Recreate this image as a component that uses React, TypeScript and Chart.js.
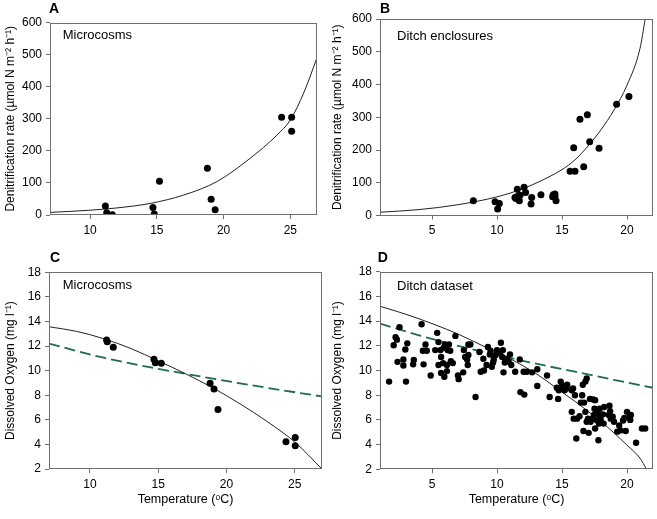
import React, { useEffect, useRef } from 'react';
import { Chart, registerables } from 'chart.js';

Chart.register(...registerables);

// ---------- DATA ----------
// Panel A: microcosms, denitrification vs temperature
const tempA = [11.15, 11.25, 11.67, 14.71, 14.81, 15.2, 18.79, 19.07, 19.37, 24.35, 25.1, 25.1];
const denitA = [28, 7, 1, 23, 3, 105, 146, 49, 16, 305, 305, 261];
const fitTempA = [7, 10, 12, 14.5, 17, 19.5, 22, 24, 25, 26, 27];
const fitDenitA = [8, 15, 22, 36, 62, 104, 177, 249, 296, 380, 490];

// Panel B: ditch enclosures
const tempB = [8.18, 9.85, 10.18, 10.05, 11.56, 11.38, 11.46, 11.72, 11.64, 11.77, 12.08, 12.2, 12.67, 12.62, 13.38, 14.33, 14.46, 14.46, 14.28, 14.54, 15.62, 16.0, 15.9, 16.67, 16.38, 16.95, 17.13, 17.85, 19.2, 20.15];
const denitB = [45, 42, 37, 20, 80, 55, 52, 45, 60, 62, 86, 70, 55, 35, 63, 63, 66, 57, 57, 45, 135, 135, 207, 149, 294, 308, 225, 205, 340, 363];
const fitTempB = [1, 4, 7, 10, 12, 14, 15, 16, 17, 18, 19, 20, 21, 21.4];
const fitDenitB = [10, 18, 33, 57, 82, 118, 140, 170, 212, 262, 322, 398, 510, 600];

// Panel C: microcosms, dissolved oxygen
const tempC = [11.22, 11.27, 11.71, 14.69, 14.79, 15.23, 18.8, 19.09, 19.38, 24.36, 25.04, 25.04];
const oxyC = [12.49, 12.35, 11.9, 10.92, 10.65, 10.6, 8.97, 8.5, 6.85, 4.22, 4.57, 3.89];
const fitTempC = [7, 9, 11, 13, 15, 17, 19, 21, 23, 25, 27];
const fitOxyC = [13.57, 13.2, 12.6, 11.8, 10.8, 9.75, 8.6, 7.3, 5.85, 4.2, 2.0];
const satTempC = [7, 11, 15, 19, 23, 27];
const satOxyC = [12.2, 11.05, 10.15, 9.35, 8.6, 7.9];

// Panel D: ditch dataset
const tempD = [1.7, 2.05, 2.2, 2.3, 2.5, 2.35, 2.8, 2.8, 2.95, 3.1, 3.0, 3.55, 3.6, 4.2, 4.3, 4.35, 4.5, 4.6, 4.9, 5.25, 5.4, 5.5, 5.5, 5.65, 5.7, 5.7, 5.85, 5.9, 5.95, 6.0, 6.15, 6.2, 6.3, 6.4, 6.45, 6.15, 6.6, 6.8, 7.0, 7.05, 7.4, 7.45, 7.55, 7.7, 7.75, 7.8, 7.95, 7.8, 8.35, 8.65, 8.75, 8.95, 9.0, 9.2, 9.3, 9.45, 9.5, 9.6, 9.7, 9.75, 9.9, 10.0, 10.25, 10.3, 10.4, 10.45, 10.5, 10.6, 10.75, 10.9, 11.0, 11.1, 11.4, 11.75, 11.8, 12.1, 12.05, 12.3, 12.7, 13.1, 13.1, 13.85, 14.05, 14.7, 14.6, 14.75, 14.9, 15.0, 15.1, 15.2, 15.35, 15.4, 15.75, 15.75, 15.85, 15.9, 16.0, 16.1, 16.15, 16.35, 16.45, 16.55, 16.6, 16.7, 16.65, 16.8, 16.9, 16.8, 16.9, 17.0, 17.05, 17.15, 17.2, 17.35, 17.4, 17.45, 17.5, 17.55, 17.55, 17.65, 17.7, 17.8, 17.85, 17.85, 17.9, 17.95, 18.0, 18.15, 18.2, 18.25, 18.6, 18.65, 18.7, 18.75, 18.9, 19.0, 19.25, 19.4, 19.5, 19.7, 19.8, 19.9, 20.0, 20.2, 20.25, 20.3, 20.7, 21.15, 21.4];
const oxyD = [9.1, 12.05, 12.7, 12.5, 13.5, 10.7, 10.4, 10.9, 11.7, 12.2, 9.1, 10.5, 10.85, 13.75, 11.6, 10.5, 12.1, 11.6, 9.6, 11.65, 13.05, 12.3, 10.45, 11.65, 11.1, 9.8, 10.6, 11.85, 9.5, 12.1, 10.45, 11.65, 12.1, 11.6, 10.75, 9.95, 10.6, 12.8, 9.6, 9.3, 9.85, 11.65, 11.1, 10.9, 10.45, 12.1, 12.1, 11.25, 7.85, 11.5, 9.9, 10.95, 10.0, 10.45, 11.9, 11.3, 11.6, 10.3, 10.65, 10.9, 11.25, 11.65, 11.5, 12.25, 11.1, 11.65, 9.85, 10.65, 10.95, 10.7, 11.3, 10.45, 9.9, 10.9, 8.25, 8.05, 9.9, 9.9, 9.85, 10.1, 8.75, 9.6, 7.85, 7.7, 8.6, 8.4, 9.1, 8.8, 8.6, 8.4, 8.55, 8.85, 8.4, 6.65, 8.55, 6.1, 8.0, 4.5, 6.1, 6.3, 7.4, 8.0, 8.85, 7.4, 5.1, 9.1, 9.35, 6.65, 5.85, 6.1, 4.95, 7.7, 5.85, 6.1, 7.65, 6.4, 6.9, 7.6, 5.3, 6.65, 5.95, 4.35, 6.45, 5.7, 6.9, 6.2, 5.9, 6.45, 5.7, 7.05, 6.4, 7.15, 6.7, 6.1, 6.25, 5.85, 5.05, 5.55, 5.15, 5.95, 6.15, 5.1, 6.65, 6.25, 6.0, 6.4, 4.15, 5.3, 5.3];
const fitTempD = [1, 3, 5, 7, 9, 11, 13, 15, 16, 17, 18, 19, 20, 21, 21.5];
const fitOxyD = [15.2, 14.55, 13.8, 12.95, 11.95, 10.95, 9.75, 8.25, 7.5, 6.7, 5.85, 4.95, 3.95, 2.9, 2.0];
const satTempD = [1, 4, 7, 10, 13, 16, 19, 22];
const satOxyD = [13.8, 12.85, 12.0, 11.25, 10.55, 9.9, 9.25, 8.6];

// Tick values
const xTicksA = [10, 15, 20, 25];
const xTicksB = [5, 10, 15, 20];
const xTicksC = [10, 15, 20, 25];
const xTicksD = [5, 10, 15, 20];

// Text
const denitTitle = 'Denitrification rate (\u00b5mol N m\u207b\u00b2 h\u207b\u00b9)';
const oxyTitle = 'Dissolved Oxygen (mg l\u207b\u00b9)';
const tempTitle = 'Temperature (\u1d52C)';

// ---------- STYLE ----------
const FONT = "'Liberation Sans', Arial, Helvetica, sans-serif";
const AXIS = '#6f6f6f';
const LINE = '#222222';
const DASH = '#1f6a50';

const zip = (xs: number[], ys: number[]) => xs.map((x, i) => ({ x, y: ys[i] }));

const decoPlugin = {
  id: 'deco',
  afterDraw(chart: any, _args: any, opts: any) {
    const { ctx, chartArea: a } = chart;
    ctx.save();
    ctx.strokeStyle = AXIS;
    ctx.lineWidth = 1;
    const l = Math.round(a.left) + 0.5;
    const t = Math.round(a.top) + 0.5;
    const r = Math.round(a.right) - 0.5;
    const b = Math.round(a.bottom) - 0.5;
    ctx.strokeRect(l, t, r - l, b - t);
    ctx.fillStyle = '#000';
    ctx.textBaseline = 'middle';
    ctx.textAlign = 'left';
    ctx.font = `bold 14px ${FONT}`;
    ctx.fillText(opts.label, a.left + opts.labelDx, a.top + opts.labelDy);
    ctx.font = `13px ${FONT}`;
    ctx.fillText(opts.note, a.left + opts.noteDx, a.top + opts.noteDy);
    ctx.restore();
  },
};

type PanelCfg = {
  left: number; top: number; w: number; h: number;
  padTop: number; padRight: number; yW: number; xH: number;
  xMin: number; xMax: number; xTicks: number[];
  yMin: number; yMax: number; yStep: number;
  yTitle: string; xTitle?: string;
  pts: { x: number; y: number }[]; r: number;
  fit: { x: number; y: number }[];
  sat?: { x: number; y: number }[];
  label: string; labelDx: number; labelDy: number;
  note: string; noteDx: number; noteDy: number;
};

function buildConfig(c: PanelCfg): any {
  const datasets: any[] = [
    {
      type: 'scatter',
      data: c.pts,
      backgroundColor: '#000',
      borderColor: '#000',
      borderWidth: 0,
      pointRadius: c.r,
      pointHoverRadius: c.r,
    },
    {
      type: 'line',
      data: c.fit,
      borderColor: LINE,
      borderWidth: 1,
      pointRadius: 0,
      fill: false,
      cubicInterpolationMode: 'monotone',
    },
  ];
  if (c.sat) {
    datasets.push({
      type: 'line',
      data: c.sat,
      borderColor: DASH,
      borderWidth: 1.8,
      borderDash: [11, 5],
      pointRadius: 0,
      fill: false,
      cubicInterpolationMode: 'monotone',
    });
  }
  const tickFont = { family: FONT, size: 12 };
  const xTitleFont = { family: FONT, size: 12.5 };
  const grid = { drawOnChartArea: false, drawTicks: true, tickLength: 4, color: AXIS, lineWidth: 1 };
  return {
    type: 'scatter',
    data: { datasets },
    options: {
      responsive: false,
      animation: false,
      devicePixelRatio: 1,
      events: [],
      layout: { padding: { left: 0, top: c.padTop, right: c.padRight, bottom: 0 } },
      plugins: {
        legend: { display: false },
        tooltip: { enabled: false },
        deco: { label: c.label, labelDx: c.labelDx, labelDy: c.labelDy, note: c.note, noteDx: c.noteDx, noteDy: c.noteDy },
      },
      scales: {
        x: {
          type: 'linear',
          min: c.xMin,
          max: c.xMax,
          afterBuildTicks: (s: any) => { s.ticks = c.xTicks.map((v) => ({ value: v })); },
          afterFit: (s: any) => { s.height = c.xH; },
          grid,
          border: { display: false },
          ticks: { font: tickFont, color: '#000', padding: 4, maxRotation: 0, autoSkip: false },
          title: c.xTitle
            ? { display: true, text: c.xTitle, font: xTitleFont, color: '#000', padding: { top: 4, bottom: 12 } }
            : { display: false },
        },
        y: {
          type: 'linear',
          min: c.yMin,
          max: c.yMax,
          afterFit: (s: any) => { s.width = c.yW; },
          grid,
          border: { display: false },
          ticks: { stepSize: c.yStep, font: tickFont, color: '#000', padding: 4, autoSkip: false },
          title: { display: true, text: c.yTitle, font: tickFont, color: '#000', padding: { top: 3, bottom: 0 } },
        },
      },
    },
    plugins: [decoPlugin],
  };
}

const panels: PanelCfg[] = [
  {
    left: 0, top: 0, w: 328, h: 248, padTop: 22.5, padRight: 11, yW: 50, xH: 33,
    xMin: 7, xMax: 27, xTicks: xTicksA, yMin: 0, yMax: 600, yStep: 100,
    yTitle: denitTitle, pts: zip(tempA, denitA), r: 3.5, fit: zip(fitTempA, fitDenitA),
    label: 'A', labelDx: -1, labelDy: -13.5, note: 'Microcosms', noteDx: 12.7, noteDy: 13.2,
  },
  {
    left: 327, top: 0, w: 330, h: 248, padTop: 19, padRight: 4, yW: 53, xH: 32.5,
    xMin: 1, xMax: 22, xTicks: xTicksB, yMin: 0, yMax: 600, yStep: 100,
    yTitle: denitTitle, pts: zip(tempB, denitB), r: 3.5, fit: zip(fitTempB, fitDenitB),
    label: 'B', labelDx: 0, labelDy: -10, note: 'Ditch enclosures', noteDx: 17, noteDy: 17,
  },
  {
    left: 0, top: 248, w: 328, h: 271, padTop: 24.3, padRight: 6, yW: 49, xH: 50,
    xMin: 7, xMax: 27, xTicks: xTicksC, yMin: 2, yMax: 18, yStep: 2,
    yTitle: oxyTitle, xTitle: tempTitle, pts: zip(tempC, oxyC), r: 3.5,
    fit: zip(fitTempC, fitOxyC), sat: zip(satTempC, satOxyC),
    label: 'C', labelDx: 1, labelDy: -14.3, note: 'Microcosms', noteDx: 13.7, noteDy: 12.7,
  },
  {
    left: 327, top: 248, w: 330, h: 271, padTop: 23.7, padRight: 4, yW: 53, xH: 49.7,
    xMin: 1, xMax: 22, xTicks: xTicksD, yMin: 2, yMax: 18, yStep: 2,
    yTitle: oxyTitle, xTitle: tempTitle, pts: zip(tempD, oxyD), r: 3.2,
    fit: zip(fitTempD, fitOxyD), sat: zip(satTempD, satOxyD),
    label: 'D', labelDx: -2.3, labelDy: -13.4, note: 'Ditch dataset', noteDx: 17, noteDy: 15,
  },
];

function Panel({ cfg }: { cfg: PanelCfg }) {
  const ref = useRef<HTMLCanvasElement>(null);
  useEffect(() => {
    if (!ref.current) return;
    const chart = new Chart(ref.current, buildConfig(cfg));
    return () => chart.destroy();
  }, [cfg]);
  return (
    <canvas
      ref={ref}
      width={cfg.w}
      height={cfg.h}
      style={{ position: 'absolute', left: cfg.left, top: cfg.top, width: cfg.w, height: cfg.h }}
    />
  );
}

export default function App() {
  return (
    <div style={{ position: 'fixed', left: 0, top: 0, width: 657, height: 519, background: '#fff', overflow: 'hidden' }}>
      {panels.map((p) => (
        <Panel key={p.label} cfg={p} />
      ))}
    </div>
  );
}
